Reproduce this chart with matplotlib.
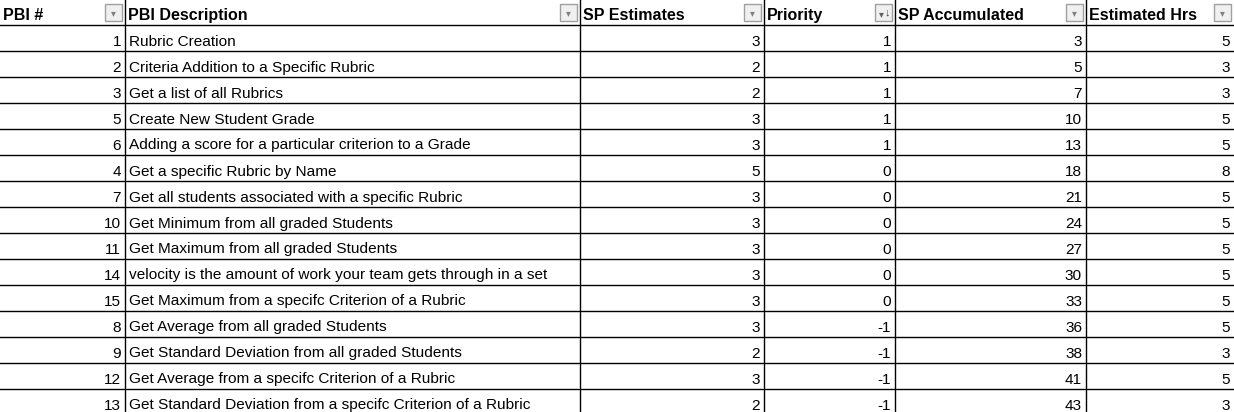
import matplotlib.pyplot as plt
from matplotlib.patches import Rectangle

headers = ["PBI #", "PBI Description", "SP Estimates", "Priority", "SP Accumulated", "Estimated Hrs"]
pbi = [1, 2, 3, 5, 6, 4, 7, 10, 11, 14, 15, 8, 9, 12, 13]
desc = ["Rubric Creation", "Criteria Addition to a Specific Rubric", "Get a list of all Rubrics",
        "Create New Student Grade", "Adding a score for a particular criterion to a Grade",
        "Get a specific Rubric by Name", "Get all students associated with a specific Rubric",
        "Get Minimum from all graded Students", "Get Maximum from all graded Students",
        "velocity is the amount of work your team gets through in a set",
        "Get Maximum from a specifc Criterion of a Rubric", "Get Average from all graded Students",
        "Get Standard Deviation from all graded Students", "Get Average from a specifc Criterion of a Rubric",
        "Get Standard Deviation from a specifc Criterion of a Rubric"]
sp = [3, 2, 2, 3, 3, 5, 3, 3, 3, 3, 3, 3, 2, 3, 2]
priority = [1, 1, 1, 1, 1, 0, 0, 0, 0, 0, 0, -1, -1, -1, -1]
sp_acc = [3, 5, 7, 10, 13, 18, 21, 24, 27, 30, 33, 36, 38, 41, 43]
hrs = [5, 3, 3, 5, 5, 8, 5, 5, 5, 5, 5, 5, 3, 5, 3]

col_x = [0, 125, 580, 764, 895, 1086, 1234]
head_h = 25
row_h = 26

plt.rcParams['font.family'] = ['Liberation Sans', 'DejaVu Sans']
fig = plt.figure(figsize=(12.34, 4.12), dpi=100)
ax = fig.add_axes([0, 0, 1, 1])
ax.set_xlim(0, 1234)
ax.set_ylim(412, 0)
ax.axis('off')

# header
for i, h in enumerate(headers):
    ax.text(col_x[i] + 3, head_h / 2 + 2.5, h, fontsize=11.5, fontweight='bold', va='center', ha='left')
    bx = col_x[i + 1] - 20
    ax.add_patch(Rectangle((bx, 4), 17, 17, facecolor='#f0f0f0', edgecolor='#a0a0a0', lw=1))
    if i == 3:
        ax.text(bx + 6, 14, "▾", fontsize=7, color='#606060', ha='center', va='center')
        ax.text(bx + 12, 12, "↓", fontsize=8, color='#404040', ha='center', va='center')
    else:
        ax.text(bx + 8.5, 13, "▾", fontsize=7, color='#808080', ha='center', va='center')

cols = [pbi, desc, sp, priority, sp_acc, hrs]
for r in range(len(pbi)):
    yc = head_h + row_h * r + row_h / 2 + 3.5
    for c, vals in enumerate(cols):
        if c == 1:
            ax.text(col_x[c] + 4, yc, vals[r], fontsize=11.1, va='center', ha='left')
        else:
            ax.text(col_x[c + 1] - 4, yc, str(vals[r]), fontsize=11.1, va='center', ha='right')

# grid lines
for k in range(len(pbi) + 1):
    y = head_h + row_h * k
    ax.plot([0, 1234], [y, y], color='black', lw=1)
for x in col_x[1:-1]:
    ax.plot([x, x], [0, 412], color='black', lw=1)

fig.savefig("out.png", dpi=100)
